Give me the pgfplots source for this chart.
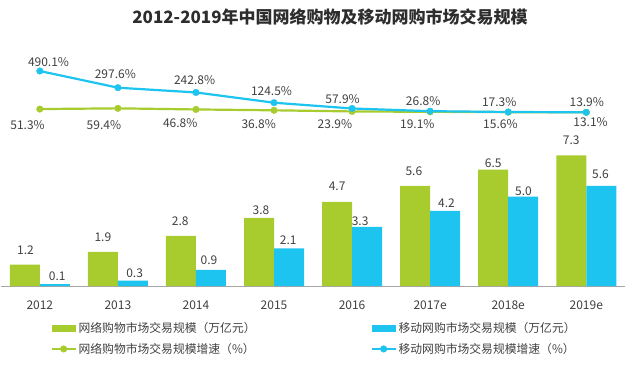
\documentclass[border=0pt]{standalone}
\usepackage{pgfplots}
\usepackage{pgfplotstable}
\pgfplotsset{compat=1.18}
\usepackage{fontspec}
\setmainfont{Noto Sans CJK SC}
\definecolor{cgreen}{RGB}{168,204,46}
\definecolor{ccyan}{RGB}{30,196,240}
\definecolor{txt}{RGB}{64,64,64}
\definecolor{ttl}{RGB}{45,45,45}

\pgfplotstableread{
x v dx dy
0 1.2 0.7 14.5
1 1.9 0 14.3
2 2.8 -0.7 14.2
3 3.8 2 8
4 4.7 0 15.2
5 5.6 -1.3 14.1
6 6.5 0 6.3
7 7.3 0 15.3
}\greenbars
\pgfplotstableread{
x v dx dy
0 0.1 2.4 7.5
1 0.3 1.7 7.3
2 0.9 -2 9.9
3 2.1 -0.8 8.4
4 3.3 -7 6.2
5 4.2 1.4 8.1
6 5.0 0.3 4.8
7 5.6 -0.7 11.8
}\cyanbars
\pgfplotstableread{
x v dx dy
0 51.3 -12.3 -16
1 59.4 -14 -16.6
2 46.8 -15.7 -14
3 36.8 -15.3 -13.7
4 23.9 -17.2 -12.6
5 19.1 -12.8 -12.1
6 15.6 -7.8 -12.2
7 13.1 4.3 -9.3
}\greenline
\pgfplotstableread{
x v dx dy
0 490.1 8.7 9.3
1 297.6 -2.6 13.7
2 242.8 -1.4 12.7
3 124.5 -2.5 11.7
4 57.9 -9.5 9
5 26.8 -7 10
6 17.3 -9 9.6
7 13.9 0.5 10.6
}\cyanline

\begin{document}
\begin{tikzpicture}
\useasboundingbox (0pt,0pt) rectangle (640pt,365pt);
\node[font=\bfseries\fontsize{17}{20}\selectfont, text=ttl] at (330pt,348.3pt) {2012-2019年中国网络购物及移动网购市场交易规模};

\begin{axis}[
  at={(0.8pt,79pt)}, anchor=south west, scale only axis,
  width=624.5pt, height=143.2pt,
  xmin=-0.5, xmax=7.5, ymin=0, ymax=8,
  axis x line*=bottom, axis y line=none,
  x axis line style={draw=gray!70, line width=0.8pt},
  ytick=\empty,
  xtick={0,...,7}, major tick length=0pt,
  xticklabels={2012,2013,2014,2015,2016,2017e,2018e,2019e},
  xticklabel style={font=\fontsize{12}{14}\selectfont, text=txt, yshift=-11pt},
  ybar, bar width=30pt, clip=false,
  point meta=explicit symbolic,
  legend columns=2,
  legend cell align=left,
  legend style={draw=none, fill=none, inner sep=0pt,
    at={(0.0795,-0.24)}, anchor=north west,
    font=\fontsize{11.8}{14}\selectfont, text=txt,
    row sep=5pt,
    /tikz/every even column/.append style={column sep=113pt}},
]
\addplot[fill=cgreen, draw=none, bar shift=-15pt,
  nodes near coords,
  visualization depends on={\thisrow{dx}\as\dx},
  visualization depends on={\thisrow{dy}\as\dy},
  every node near coord/.append style={font=\fontsize{12}{14}\selectfont, text=txt, anchor=center, xshift=\dx pt, yshift=\dy pt},
  legend image code/.code={\fill[cgreen] (0pt,-3.5pt) rectangle (24pt,3.5pt);}
] table[x=x, y=v, meta=v] {\greenbars};
\addlegendentry{网络购物市场交易规模（万亿元）}
\addplot[fill=ccyan, draw=none, bar shift=15pt,
  nodes near coords,
  visualization depends on={\thisrow{dx}\as\dx},
  visualization depends on={\thisrow{dy}\as\dy},
  every node near coord/.append style={font=\fontsize{12}{14}\selectfont, text=txt, anchor=center, xshift=\dx pt, yshift=\dy pt},
  legend image code/.code={\fill[ccyan] (0pt,-3.5pt) rectangle (24pt,3.5pt);}
] table[x=x, y=v, meta=v] {\cyanbars};
\addlegendentry{移动网购市场交易规模（万亿元）}
\addlegendimage{legend image code/.code={\draw[cgreen, line width=2pt] (0pt,0pt)--(24pt,0pt); \fill[cgreen] (12pt,0pt) circle (3.3pt);}}
\addlegendentry{网络购物市场交易规模增速（\%）}
\addlegendimage{legend image code/.code={\draw[ccyan, line width=2pt] (0pt,0pt)--(24pt,0pt); \fill[ccyan] (12pt,0pt) circle (3.3pt);}}
\addlegendentry{移动网购市场交易规模增速（\%）}
\end{axis}

\begin{axis}[
  at={(0.8pt,251.5pt)}, anchor=south west, scale only axis,
  width=624.5pt, height=43.35pt,
  xmin=-0.5, xmax=7.5, ymin=0, ymax=500,
  hide axis, clip=false,
  point meta=explicit symbolic,
]
\addplot[cgreen, line width=2.2pt, mark=*, mark size=3.3pt,
  mark options={fill=cgreen, draw=cgreen, line width=0.4pt},
  nodes near coords={\pgfplotspointmeta\%},
  visualization depends on={\thisrow{dx}\as\dx},
  visualization depends on={\thisrow{dy}\as\dy},
  every node near coord/.append style={font=\fontsize{12}{14}\selectfont, text=txt, anchor=center, xshift=\dx pt, yshift=\dy pt},
] table[x=x, y=v, meta=v] {\greenline};
\addplot[ccyan, line width=2.2pt, mark=*, mark size=3.3pt,
  mark options={fill=ccyan, draw=ccyan, line width=0.4pt},
  nodes near coords={\pgfplotspointmeta\%},
  visualization depends on={\thisrow{dx}\as\dx},
  visualization depends on={\thisrow{dy}\as\dy},
  every node near coord/.append style={font=\fontsize{12}{14}\selectfont, text=txt, anchor=center, xshift=\dx pt, yshift=\dy pt},
] table[x=x, y=v, meta=v] {\cyanline};
\end{axis}
\end{tikzpicture}
\end{document}
